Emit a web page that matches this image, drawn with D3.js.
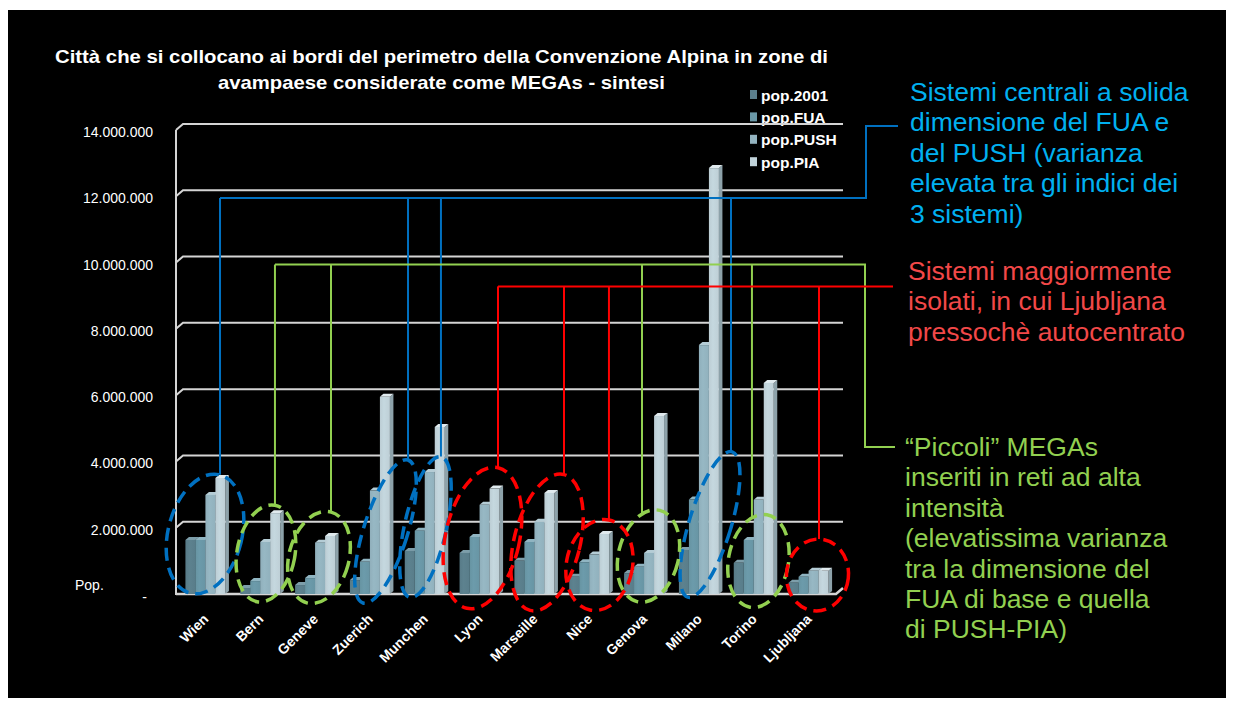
<!DOCTYPE html>
<html>
<head>
<meta charset="utf-8">
<script src="https://cdn.jsdelivr.net/npm/d3@7"></script>
<style>
  body { margin: 0; background: #ffffff; }
  svg { display: block; }
  text { font-family: "Liberation Sans", Arial, sans-serif; }
</style>
</head>
<body>
<svg id="chart" width="1233" height="704"></svg>
<script>
// ---- data ----
const cities = ["Wien", "Bern", "Geneve", "Zuerich", "Munchen", "Lyon", "Marseille", "Nice", "Genova", "Milano", "Torino", "Ljubljana"];
const seriesNames = ["pop.2001", "pop.FUA", "pop.PUSH", "pop.PIA"];
const pop2001 = [1630000, 180000, 270000, 420000, 1300000, 1240000, 1000000, 520000, 630000, 1330000, 940000, 340000];
const popFUA  = [1630000, 390000, 480000, 970000, 1910000, 1720000, 1570000, 960000, 820000, 2850000, 1630000, 520000];
const popPUSH = [2990000, 1570000, 1550000, 3120000, 3680000, 2690000, 2180000, 1190000, 1240000, 7510000, 2840000, 700000];
const popPIA  = [3500000, 2440000, 1750000, 5950000, 5040000, 3180000, 3050000, 1810000, 5370000, 12850000, 6370000, 700000];
const yTicks = [0, 2000000, 4000000, 6000000, 8000000, 10000000, 12000000, 14000000];
const yTickLabels = ["-", "2.000.000", "4.000.000", "6.000.000", "8.000.000", "10.000.000", "12.000.000", "14.000.000"];

const titleLines = [
  "Città che si collocano ai bordi del perimetro della Convenzione Alpina in zone di",
  "avampaese considerate come MEGAs - sintesi"
];

// city groupings and their notes
const groupCentral = ["Wien", "Zuerich", "Munchen", "Milano"];
const groupIsolated = ["Lyon", "Marseille", "Nice", "Ljubljana"];
const groupSmall = ["Bern", "Geneve", "Genova", "Torino"];
const noteCentral = ["Sistemi centrali a solida", "dimensione del FUA e", "del PUSH (varianza", "elevata tra gli indici dei", "3 sistemi)"];
const noteIsolated = ["Sistemi maggiormente", "isolati, in cui Ljubljana", "pressochè autocentrato"];
const noteSmall = ["\u201CPiccoli\u201D MEGAs", "inseriti in reti ad alta", "intensità", "(elevatissima varianza", "tra la dimensione del", "FUA di base e quella", "di PUSH-PIA)"];

const seriesValues = [pop2001, popFUA, popPUSH, popPIA];

// ---- layout ----
const svg = d3.select("#chart");
const floorY = 594, topY = 130;           // front plane
const depthX = 7, depthY = 6;             // wall depth offset
const plotLeft = 176, plotRight = 836;

const y = d3.scaleLinear().domain([0, 14000000]).range([floorY, topY]);
const x = d3.scaleBand().domain(cities).range([178, plotRight]).padding(0);
const groupW = 40;
const xs = d3.scaleBand().domain(seriesNames).range([0, groupW]).padding(0);

const faceColors = {
  "pop.2001": { front: "#5b7f8c", side: "#42606b", top: "#7d9eaa" },
  "pop.FUA":  { front: "#6a98a7", side: "#4d7482", top: "#90b5c2" },
  "pop.PUSH": { front: "#94b4c0", side: "#6d8b97", top: "#b5cdd6" },
  "pop.PIA":  { front: "#c1d3da", side: "#8da2aa", top: "#e0eaee" }
};

// slide background
svg.append("rect").attr("x", 8).attr("y", 10).attr("width", 1218).attr("height", 688).attr("fill", "#000000");

const defs = svg.append("defs");
seriesNames.forEach((s, i) => {
  const c = faceColors[s].front;
  const g = defs.append("linearGradient").attr("id", "grad" + i).attr("x1", 0).attr("x2", 1).attr("y1", 0).attr("y2", 0);
  g.append("stop").attr("offset", "0%").attr("stop-color", d3.color(c).darker(0.08));
  g.append("stop").attr("offset", "40%").attr("stop-color", d3.color(c).brighter(0.06));
  g.append("stop").attr("offset", "100%").attr("stop-color", d3.color(c).darker(0.05));
});

// title
svg.append("text").attr("x", 441.5).attr("y", 63).attr("text-anchor", "middle")
  .attr("font-size", 19).attr("font-weight", "bold").attr("fill", "#ffffff")
  .attr("textLength", 773).attr("lengthAdjust", "spacingAndGlyphs").text(titleLines[0]);
svg.append("text").attr("x", 441.5).attr("y", 89).attr("text-anchor", "middle")
  .attr("font-size", 19).attr("font-weight", "bold").attr("fill", "#ffffff")
  .attr("textLength", 447).attr("lengthAdjust", "spacingAndGlyphs").text(titleLines[1]);

// legend
const legend = svg.append("g").attr("transform", "translate(750,95)");
seriesNames.forEach((s, i) => {
  const row = legend.append("g").attr("transform", `translate(0,${i * 22.4})`);
  row.append("rect").attr("x", 0).attr("y", -5).attr("width", 7).attr("height", 9).attr("fill", faceColors[s].front);
  row.append("text").attr("x", 11).attr("y", 5.5).attr("font-size", 15.5).attr("font-weight", "bold")
    .attr("fill", "#ffffff").text(s);
});

// walls and gridlines
const grid = svg.append("g").attr("stroke", "#d4d4d4").attr("stroke-width", 2).attr("fill", "none");
grid.append("line").attr("x1", plotLeft).attr("x2", plotLeft).attr("y1", y(14000000)).attr("y2", floorY + 1);
yTicks.filter(v => v > 0).forEach(v => {
  const yb = y(v) - depthY;
  grid.append("path").attr("d", `M${plotLeft},${y(v)} L${plotLeft + depthX},${yb} H${plotRight + depthX}`);
});
grid.append("path").attr("d", `M${plotLeft},${floorY} H${plotRight} L${plotRight + depthX},${floorY - depthY}`)
  .attr("stroke-width", 2.5);

// y-axis labels
svg.append("g").selectAll("text").data(yTicks).join("text")
  .attr("x", d => d === 0 ? 147 : 153).attr("y", d => y(d) + (d === 0 ? 8 : 7))
  .attr("text-anchor", "end").attr("font-size", 14).attr("fill", "#ffffff")
  .text((d, i) => yTickLabels[i]);
svg.append("text").attr("x", 75).attr("y", 590).attr("font-size", 14).attr("fill", "#ffffff").text("Pop.");

// bars
const barD = 3.5, barDy = 3;
const bars = svg.append("g");
cities.forEach((city, ci) => {
  const g0 = x(city) + (x.bandwidth() - groupW) / 2;
  seriesNames.forEach((s, si) => {
    const v = seriesValues[si][ci];
    const bx = g0 + xs(s), bw = xs.bandwidth(), yt = y(v);
    const col = faceColors[s];
    const g = bars.append("g");
    g.append("path").attr("fill", col.side)
      .attr("d", `M${bx + bw},${yt} L${bx + bw + barD},${yt - barDy} V${floorY - barDy} L${bx + bw},${floorY} Z`);
    g.append("path").attr("fill", col.top)
      .attr("d", `M${bx},${yt} L${bx + barD},${yt - barDy} H${bx + bw + barD} L${bx + bw},${yt} Z`);
    g.append("rect").attr("x", bx).attr("y", yt).attr("width", bw).attr("height", floorY - yt)
      .attr("fill", `url(#grad${si})`);
  });
});

// x-axis labels
svg.append("g").selectAll("text").data(cities).join("text")
  .attr("transform", d => `translate(${x(d) + x.bandwidth() / 2 + 4},620) rotate(-45)`)
  .attr("text-anchor", "end").attr("font-size", 14).attr("font-weight", "bold").attr("fill", "#ffffff")
  .text(d => d);

// ---- group annotations ----
const blue = "#0070c0", green = "#92d050", red = "#ff0000";
// ellipse shape around each city's columns: offset from column centre / floor, radii, tilt, connector offset
const rings = {
  Wien:      { dx: -0.4, dy: -60,  rx: 37, ry: 61, rot: 14,   conn: 14.6 },
  Bern:      { dx: 5.7,  dy: -40.5, rx: 29, ry: 49, rot: 10.5, conn: 14.7 },
  Geneve:    { dx: 3.9,  dy: -36.5, rx: 30, ry: 47, rot: 15,   conn: 15.9 },
  Zuerich:   { dx: 15.6, dy: -62.5, rx: 22, ry: 75, rot: 17.5, conn: 38.1 },
  Munchen:   { dx: 0.7,  dy: -67,  rx: 21, ry: 72, rot: 12.5, conn: 16.2 },
  Lyon:      { dx: 2.9,  dy: -56,  rx: 37, ry: 72, rot: 12.5, conn: 18.4 },
  Marseille: { dx: 12.6, dy: -51.5, rx: 33, ry: 70, rot: 14,   conn: 29.6 },
  Nice:      { dx: 10.2, dy: -29,  rx: 33, ry: 46, rot: 12,   conn: 19.7 },
  Genova:    { dx: 4.4,  dy: -38,  rx: 30, ry: 47, rot: 14,   conn: -2.1 },
  Milano:    { dx: 11.1, dy: -69.5, rx: 21, ry: 76, rot: 17,   conn: 32.1 },
  Torino:    { dx: 4.7,  dy: -33,  rx: 30, ry: 47, rot: 10.5, conn: -1.8 },
  Ljubljana: { dx: 8.9,  dy: -19,  rx: 31, ry: 36, rot: 6,    conn: 10.4 }
};

function ringGeom(city) {
  const r = rings[city];
  const c = x(city) + x.bandwidth() / 2;
  return { cx: c + r.dx, cy: floorY + r.dy, rx: r.rx, ry: r.ry, rot: r.rot, connX: c + r.conn };
}
// upper crossing of a vertical line with a rotated ellipse
function ringTopAt(e, X) {
  const th = e.rot * Math.PI / 180;
  let best = null;
  for (let i = 0; i < 3000; i++) {
    const t = i / 3000 * 2 * Math.PI;
    const lx = e.rx * Math.cos(t), ly = e.ry * Math.sin(t);
    const gx = e.cx + lx * Math.cos(th) - ly * Math.sin(th);
    const gy = e.cy + lx * Math.sin(th) + ly * Math.cos(th);
    if (Math.abs(gx - X) < 0.7 && (best === null || gy < best)) best = gy;
  }
  return best === null ? e.cy - e.ry : best;
}

const groups = [
  { members: groupCentral, color: blue, level: 11770000, bracket: { x: 866, y: 126, end: 898 } },
  { members: groupSmall, color: green, level: 9760000, bracket: { x: 865, y: 447, end: 895 } },
  { members: groupIsolated, color: red, level: 9100000, bracket: null, end: 893 }
];

const links = svg.append("g").attr("fill", "none").attr("stroke-width", 2);
groups.forEach(grp => {
  const ly = y(grp.level) - depthY;
  const geoms = grp.members.map(ringGeom);
  const x0 = d3.min(geoms, gm => gm.connX);
  let d = `M${x0},${ly}`;
  if (grp.bracket) d += ` H${grp.bracket.x} V${grp.bracket.y} H${grp.bracket.end}`;
  else d += ` H${grp.end}`;
  links.append("path").attr("d", d).attr("stroke", grp.color);
  geoms.forEach(gm => {
    links.append("path").attr("stroke", grp.color)
      .attr("d", `M${gm.connX},${ly} V${ringTopAt(gm, gm.connX)}`);
  });
});

const ringLayer = svg.append("g").attr("fill", "none").attr("stroke-width", 3.5).attr("stroke-dasharray", "13 7");
groups.forEach(grp => {
  grp.members.forEach(city => {
    const gm = ringGeom(city);
    ringLayer.append("ellipse").attr("cx", 0).attr("cy", 0).attr("rx", gm.rx).attr("ry", gm.ry)
      .attr("transform", `translate(${gm.cx},${gm.cy}) rotate(${gm.rot})`)
      .attr("stroke", grp.color);
  });
});

// notes on the right
function note(lines, x0, y0, color) {
  const t = svg.append("text").attr("font-size", 26.5).attr("fill", color);
  lines.forEach((l, i) => t.append("tspan").attr("x", x0).attr("y", y0 + i * 30.4).text(l));
}
note(noteCentral, 910, 101, "#00b0f0");
note(noteIsolated, 908, 280, "#f24848");
note(noteSmall, 905, 456, "#92d050");
</script>
</body>
</html>
